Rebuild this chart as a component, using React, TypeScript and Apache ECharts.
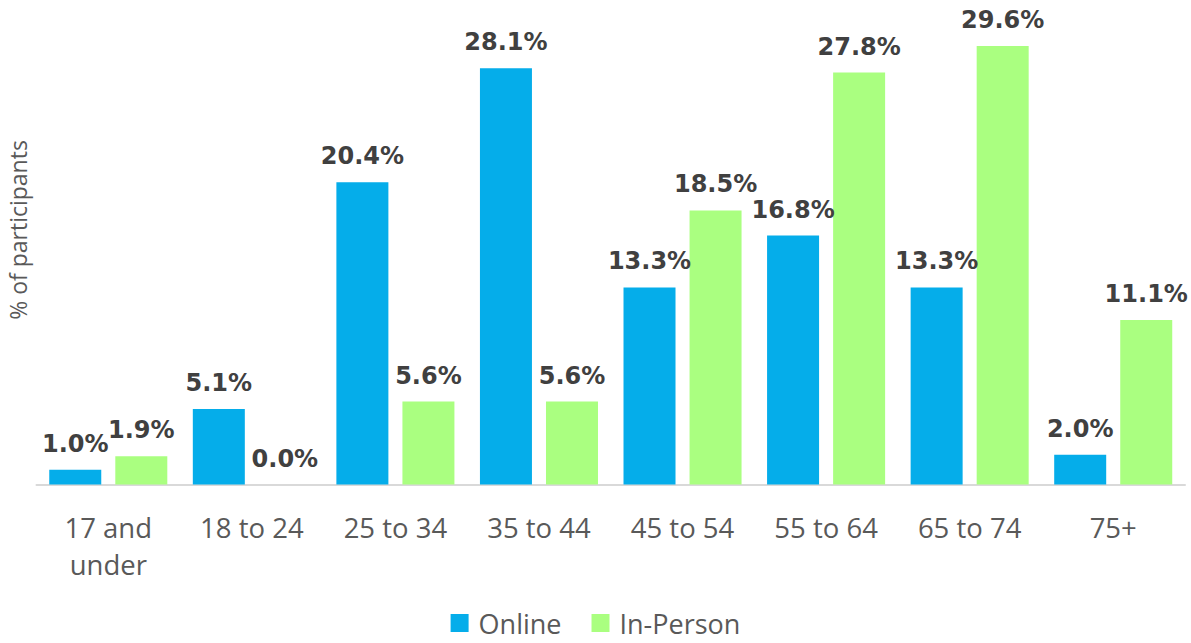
import React, { useEffect, useRef } from "react";
import * as echarts from "echarts";

const categories = ["17 and\nunder", "18 to 24", "25 to 34", "35 to 44", "45 to 54", "55 to 64", "65 to 74", "75+"];
const onlineValues = [1.0, 5.1, 20.4, 28.1, 13.3, 16.8, 13.3, 2.0];
const inPersonValues = [1.9, 0.0, 5.6, 5.6, 18.5, 27.8, 29.6, 11.1];
const seriesNames = ["Online", "In-Person"];
const yAxisTitle = "% of participants";

const ONLINE_COLOR = "#05ADEA";
const INPERSON_COLOR = "#AAFF80";

export default function App() {
  const ref = useRef<HTMLDivElement>(null);
  useEffect(() => {
    if (!ref.current) return;
    const chart = echarts.init(ref.current, null, { renderer: "svg" });
    const labelStyle = {
      show: true,
      position: "top",
      distance: 14,
      formatter: (p: any) => Number(p.value).toFixed(1) + "%",
      color: "#404040",
      fontFamily: "DejaVu Sans",
      fontWeight: "bold",
      fontSize: 24,
    };
    chart.setOption({
      animation: false,
      backgroundColor: "#ffffff",
      grid: { left: 36.5, right: 6, top: 40, bottom: 158.5, containLabel: false },
      legend: {
        top: 608,
        left: "center",
        itemWidth: 18,
        itemHeight: 18,
        itemGap: 30,
        icon: "rect",
        padding: 0,
        textStyle: { color: "#595959", fontSize: 27, lineHeight: 30, fontFamily: "Open Sans", padding: [0, 0, 0, 5] },
        data: seriesNames,
      },
      xAxis: {
        type: "category",
        data: categories,
        axisLine: { lineStyle: { color: "#D9D9D9", width: 2 } },
        axisTick: { show: false },
        axisLabel: {
          color: "#595959",
          fontSize: 27.5,
          fontFamily: "Open Sans",
          margin: 24,
          lineHeight: 37,
          interval: 0,
          verticalAlign: "top",
        },
      },
      yAxis: {
        type: "value",
        min: 0,
        max: 30,
        show: false,
      },
      graphic: [
        {
          type: "text",
          x: 18,
          y: 230,
          rotation: Math.PI / 2,
          style: {
            text: yAxisTitle,
            fill: "#595959",
            fontSize: 23,
            fontFamily: "Open Sans",
            align: "center",
            verticalAlign: "middle",
          },
        },
      ],
      series: [
        {
          name: seriesNames[0],
          type: "bar",
          data: onlineValues,
          barWidth: 52,
          barGap: "27%",
          itemStyle: { color: ONLINE_COLOR },
          label: labelStyle,
        },
        {
          name: seriesNames[1],
          type: "bar",
          data: inPersonValues,
          barWidth: 52,
          itemStyle: { color: INPERSON_COLOR },
          label: labelStyle,
        },
      ],
    });
    return () => chart.dispose();
  }, []);
  return <div ref={ref} style={{ width: 1191, height: 643, position: "absolute", left: 0, top: 0 }} />;
}
